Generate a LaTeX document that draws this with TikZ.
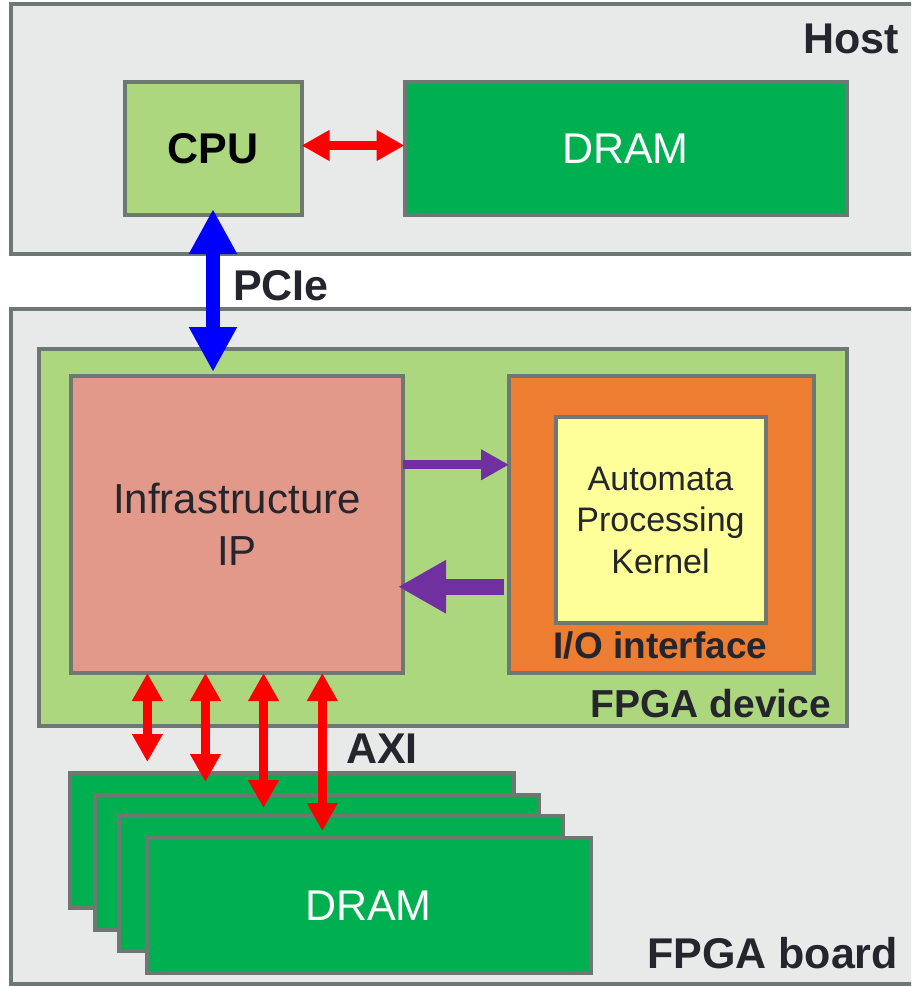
\documentclass[tikz,border=0pt]{standalone}
\usepackage{fontspec}
\setmainfont{Liberation Sans}
\usetikzlibrary{arrows.meta,calc}

\definecolor{boxgray}{HTML}{E8EAE9}
\definecolor{edgegray}{HTML}{6E7872}
\definecolor{lightgreen}{HTML}{ADD77E}
\definecolor{dramgreen}{HTML}{00AF50}
\definecolor{salmon}{HTML}{E39989}
\definecolor{ioorange}{HTML}{ED7D31}
\definecolor{kernelyellow}{HTML}{FFFF99}
\definecolor{linkpurple}{HTML}{7030A0}
\definecolor{labeltext}{HTML}{25252E}

\tikzset{
  box/.style={rectangle, draw=edgegray, line width=4pt, inner sep=0pt, outer sep=0pt},
  lbl/.style={inner sep=0pt, outer sep=0pt, text=labeltext, font=\bfseries\fontsize{43}{50}\selectfont},
  redlink/.style={draw=red, line width=9pt,
    {Triangle[length=28pt,width=29pt]}-{Triangle[length=28pt,width=29pt]}},
  pcielink/.style={draw=blue, line width=14pt,
    {Triangle[length=45pt,width=45pt]}-{Triangle[length=45pt,width=45pt]}},
  thinpurple/.style={draw=linkpurple, line width=9pt, -{Triangle[length=28pt,width=29pt]}},
  thickpurple/.style={draw=linkpurple, line width=16pt, -{Triangle[length=48pt,width=50pt]}},
}

\begin{document}
\begin{tikzpicture}[x=1pt,y=-1pt]
\useasboundingbox (0,0) rectangle (911,986);
\clip (0,0) rectangle (911,986);
\fill[white] (0,0) rectangle (911,986);

% outer enclosures
\node[box, fill=boxgray, minimum width=929pt, minimum height=249.5pt] (host) at (475.5,128.75) {};
\node[box, fill=boxgray, minimum width=929pt, minimum height=675pt] (board) at (475.5,646) {};
\node[box, fill=lightgreen, minimum width=808pt, minimum height=377pt] (device) at (442.5,537.5) {};

% host side
\node[box, fill=lightgreen, minimum width=177pt, minimum height=133pt,
      font=\bfseries\fontsize{43}{50}\selectfont] (cpu) at (213,148.5) {CPU};
\node[box, fill=dramgreen, minimum width=442pt, minimum height=133pt, text=white,
      font=\fontsize{43}{50}\selectfont] (hdram) at (625.5,148.5) {DRAM};

% FPGA device contents
\node[box, fill=salmon, minimum width=332pt, minimum height=297.5pt, text=labeltext,
      align=center, font=\fontsize{42}{52}\selectfont] (infra) at (237,524.25) {Infrastructure\\IP};
\node[box, fill=ioorange, minimum width=305pt, minimum height=297.5pt] (io) at (661.5,524.25) {};
\node[box, fill=kernelyellow, minimum width=210pt, minimum height=206pt, text=labeltext,
      align=center, font=\fontsize{34}{41.5}\selectfont] (kernel) at (660.5,520) {Automata\\Processing\\Kernel};

% on-board DRAM stack, back to front
\node[box, fill=dramgreen, minimum width=444pt, minimum height=135pt] (d1) at (292,840.5) {};
\node[box, fill=dramgreen, minimum width=444pt, minimum height=135pt] (d2) at (316.5,862) {};
\node[box, fill=dramgreen, minimum width=444pt, minimum height=135pt] (d3) at (341,883.5) {};
\node[box, fill=dramgreen, minimum width=444pt, minimum height=135pt, text=white,
      font=\fontsize{43}{50}\selectfont] (d4) at (368.5,905.5) {DRAM};

% labels
\node[lbl, anchor=base east] (hostlbl) at (899,53) {Host};
\node[lbl, anchor=base west] (pcielbl) at (233,300) {PCIe};
\node[lbl, anchor=base west] (axilbl) at (346,763) {AXI};
\node[lbl, anchor=base east, font=\bfseries\fontsize{39}{46}\selectfont] (devlbl) at (831,717) {FPGA device};
\node[lbl, anchor=base east] (boardlbl) at (898,968) {FPGA board};
\node[lbl, anchor=base, font=\bfseries\fontsize{37}{44}\selectfont] (iolbl) at (660.5,658) {I/O interface};

% connectors
\draw[redlink] ($(cpu.east)+(0,-3)$) -- ($(hdram.west)+(0,-3)$);
\draw[pcielink, shorten <=-6pt, shorten >=3.5pt] (cpu.south) -- (cpu.south |- infra.north);
\draw[thinpurple] ($(infra.north east)!0.3!(infra.south east)$) -- ($(io.north west)!0.3!(io.south west)$);
\draw[thickpurple, shorten <=5pt, shorten >=-5pt] ($(io.north west)!0.71!(io.south west)$) -- ($(infra.north east)!0.71!(infra.south east)$);

\coordinate (ax1) at ($(infra.south west)!0.23!(infra.south east)$);
\coordinate (ax2) at ($(infra.south west)!0.405!(infra.south east)$);
\coordinate (ax3) at ($(infra.south west)!0.58!(infra.south east)$);
\coordinate (ax4) at ($(infra.south west)!0.757!(infra.south east)$);
\draw[redlink, shorten >=11pt] (ax1) -- (ax1 |- d1.north);
\draw[redlink, shorten >=12.5pt] (ax2) -- (ax2 |- d2.north);
\draw[redlink, shorten >=8pt] (ax3) -- (ax3 |- d3.north);
\draw[redlink, shorten >=7pt] (ax4) -- (ax4 |- d4.north);
\end{tikzpicture}
\end{document}
